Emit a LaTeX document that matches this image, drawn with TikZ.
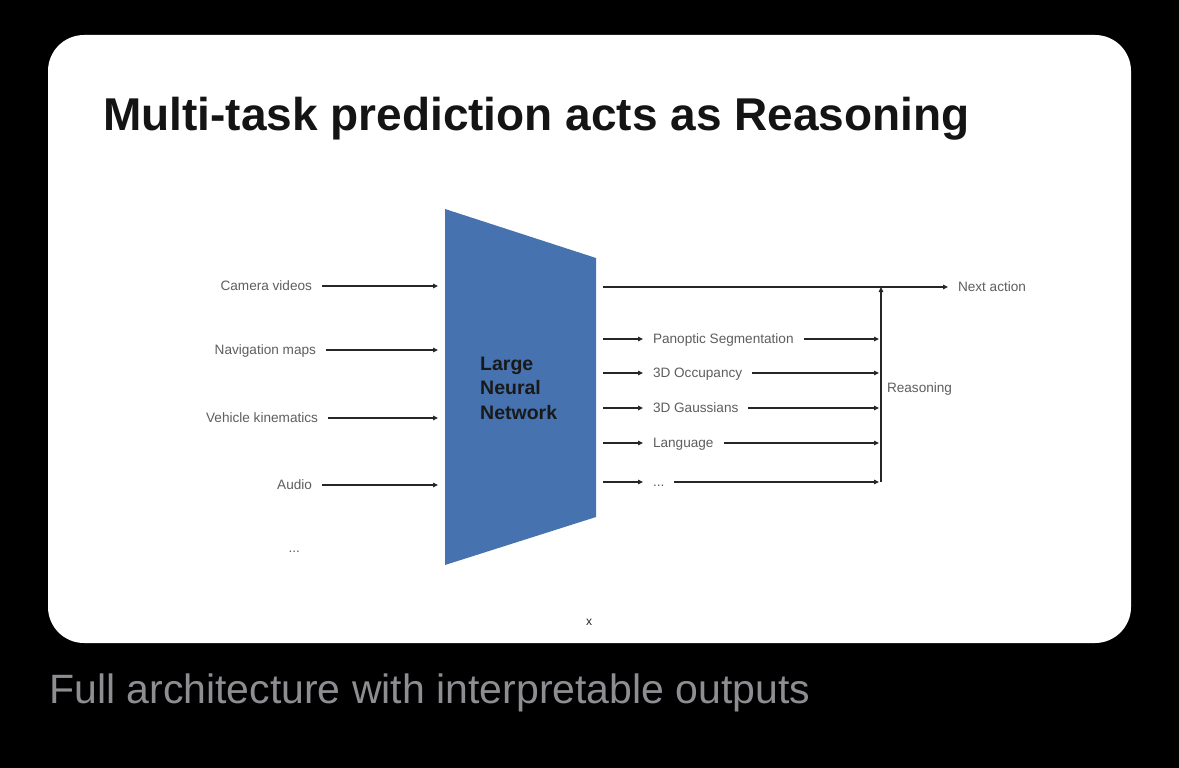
\documentclass[tikz,border=0pt]{standalone}
\usepackage{fontspec}
\setmainfont{Liberation Sans}
\usetikzlibrary{arrows.meta}
\definecolor{netblue}{HTML}{4672B0}
\definecolor{lblgray}{HTML}{5E5E5E}
\definecolor{capgray}{HTML}{8D8D92}
\begin{document}
\begin{tikzpicture}[x=1pt, y=-1pt,
        lbl/.style={inner sep=0pt, outer xsep=10pt, text height=9.8pt, text depth=0pt, text=lblgray, font=\fontsize{13.6}{16}\selectfont},
        arr/.style={draw=black!85, line width=1.1pt, -{Triangle[length=5pt, width=4.5pt]}}]
        \fill[black] (0,0) rectangle (1179,768);
        \fill[white, rounded corners=36pt] (48,35) rectangle (1131,643);
        \node[anchor=base west, inner sep=0pt, text=black!92, font=\bfseries\fontsize{46}{50}\selectfont] (title) at (103,131) {Multi-task prediction acts as Reasoning};
        % the network
        \fill[netblue] (445,209) -- (596,258) -- (596,517) -- (445,565) -- cycle;
        \node[anchor=west, align=left, inner sep=0pt, text=black!90, font=\bfseries\fontsize{19.5}{24.5}\selectfont] (nn) at (480,388) {Large\\Neural\\Network};
        \coordinate (in) at (438,0);
        \coordinate (out) at (603,0);
        \coordinate (rs) at (881,0);
        % inputs
        \node[lbl, anchor=east] (cam) at (322,286) {Camera videos};
        \node[lbl, anchor=east] (nav) at (326,350) {Navigation maps};
        \node[lbl, anchor=east] (veh) at (328,418) {Vehicle kinematics};
        \node[lbl, anchor=east] (aud) at (322,485) {Audio};
        \node[lbl, anchor=east] (more) at (310,548) {...};
        \draw[arr] (cam.east) -- (cam.east -| in);
        \draw[arr] (nav.east) -- (nav.east -| in);
        \draw[arr] (veh.east) -- (veh.east -| in);
        \draw[arr] (aud.east) -- (aud.east -| in);
        % outputs
        \node[lbl, anchor=west] (next) at (948,287) {Next action};
        \node[lbl, anchor=west] (pan) at (643,339) {Panoptic Segmentation};
        \node[lbl, anchor=west] (occ) at (643,373) {3D Occupancy};
        \node[lbl, anchor=west] (gau) at (643,408) {3D Gaussians};
        \node[lbl, anchor=west] (lang) at (643,443) {Language};
        \node[lbl, anchor=west] (etc) at (643,482) {...};
        \node[lbl, anchor=west, outer xsep=0pt] (reas) at (887,388) {Reasoning};
        \draw[arr] (next.west -| out) -- (next.west);
        \draw[arr] (pan.west -| out) -- (pan.west);
        \draw[arr] (occ.west -| out) -- (occ.west);
        \draw[arr] (gau.west -| out) -- (gau.west);
        \draw[arr] (lang.west -| out) -- (lang.west);
        \draw[arr] (etc.west -| out) -- (etc.west);
        \draw[arr, shorten >=2pt] (pan.east) -- (pan.east -| rs);
        \draw[arr, shorten >=2pt] (occ.east) -- (occ.east -| rs);
        \draw[arr, shorten >=2pt] (gau.east) -- (gau.east -| rs);
        \draw[arr, shorten >=2pt] (lang.east) -- (lang.east -| rs);
        \draw[arr, shorten >=2pt] (etc.east) -- (etc.east -| rs);
        \draw[arr] (etc.east -| rs) -- (next.west -| rs);
        % footer
        \node[inner sep=0pt, text=black!85, font=\fontsize{12}{14}\selectfont] (xmark) at (589,622) {x};
        \node[anchor=base west, inner sep=0pt, text=capgray, font=\fontsize{41}{46}\selectfont] (caption) at (49,703) {Full architecture with interpretable outputs};
    \end{tikzpicture}
\end{document}
